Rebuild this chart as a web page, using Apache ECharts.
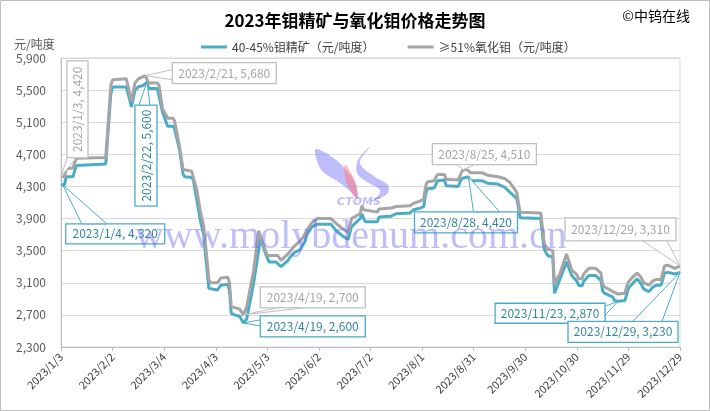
<!DOCTYPE html>
<html><head><meta charset="utf-8">
<script src="https://cdn.jsdelivr.net/npm/echarts@6/dist/echarts.min.js"></script>
<style>html,body{margin:0;padding:0;background:#fff}#c{width:710px;height:411px}</style>
</head><body><div id="c"></div>
<script>
// ---------- data ----------
const seriesNames = ['40-45%钼精矿（元/吨度）', '≥51%氧化钼（元/吨度）'];
const yTicks = [2300, 2700, 3100, 3500, 3900, 4300, 4700, 5100, 5500, 5900];

const blueDates = ['1/3','1/4','1/5','1/6','1/10','1/11','1/12','1/29','1/30','2/1','2/2','2/10','2/13','2/14','2/15','2/17','2/20','2/22','2/23','2/28','3/1','3/3','3/6','3/9','3/10','3/13','3/15','3/16','3/20','3/21','3/23','3/25','3/27','3/28','3/30','3/31','4/4','4/6','4/7','4/10','4/11','4/12','4/14','4/17','4/19','4/20','4/21','4/25','4/29','5/2','5/4','5/8','5/11','5/15','5/17','5/19','5/22','5/25','5/26','5/29','6/1','6/9','6/12','6/16','6/19','6/21','6/26','6/27','6/28','6/29','7/6','7/7','7/14','7/17','7/25','7/27','7/31','8/2','8/3','8/4','8/8','8/10','8/11','8/14','8/15','8/22','8/24','8/28','8/29','9/5','9/8','9/14','9/18','9/21','9/25','9/26','9/27','10/9','10/10','10/11','10/12','10/13','10/16','10/17','10/18','10/19','10/20','10/24','10/26','10/27','10/30','10/31','11/2','11/3','11/6','11/10','11/13','11/14','11/15','11/20','11/21','11/23','11/27','11/28','11/29','12/1','12/4','12/6','12/8','12/11','12/13','12/15','12/18','12/20','12/22','12/26','12/27','12/29'];
const blueValues = [4320,4320,4320,4420,4420,4500,4560,4580,4580,5460,5540,5540,5290,5290,5500,5540,5560,5600,5520,5520,5500,5230,5050,5050,5020,4750,4450,4420,4410,4380,4130,3880,3700,3450,3030,3010,3010,3070,3080,3080,3000,2720,2700,2680,2600,2620,2650,3090,3650,3460,3360,3360,3300,3380,3440,3480,3510,3620,3700,3800,3830,3830,3750,3680,3640,3800,3900,3960,3900,3860,3860,3920,3930,3960,3970,4010,4030,4050,4200,4270,4280,4370,4390,4380,4310,4300,4400,4420,4370,4370,4340,4330,4290,4230,4150,4050,3910,3900,3880,3520,3480,3440,3420,2970,2970,3080,3100,3360,3250,3190,3120,3070,3060,3120,3190,3190,3130,3000,2970,2920,2880,2870,2880,2960,3030,3080,3150,3100,3020,2990,3040,3070,3070,3220,3230,3210,3210,3230];

const grayDates = ['1/3','1/5','1/6','1/10','1/11','1/12','1/29','1/30','2/1','2/2','2/10','2/13','2/14','2/15','2/17','2/21','2/22','2/23','2/28','3/1','3/3','3/6','3/9','3/10','3/13','3/15','3/16','3/20','3/21','3/23','3/25','3/27','3/28','3/30','3/31','4/4','4/6','4/7','4/10','4/11','4/12','4/14','4/17','4/19','4/20','4/21','4/25','4/28','5/1','5/3','5/9','5/11','5/12','5/15','5/18','5/22','5/24','5/26','5/29','6/1','6/9','6/12','6/16','6/19','6/21','6/26','6/27','6/28','6/29','7/6','7/7','7/14','7/17','7/25','7/27','7/31','8/2','8/3','8/4','8/8','8/10','8/11','8/14','8/15','8/22','8/24','8/25','8/28','8/29','9/5','9/8','9/14','9/18','9/21','9/25','9/26','9/27','10/9','10/10','10/11','10/12','10/13','10/16','10/17','10/18','10/19','10/20','10/24','10/26','10/27','10/30','10/31','11/2','11/3','11/6','11/10','11/13','11/14','11/15','11/20','11/21','11/23','11/27','11/28','11/29','12/1','12/4','12/6','12/8','12/11','12/13','12/15','12/18','12/20','12/22','12/26','12/27','12/29'];
const grayValues = [4420,4420,4520,4530,4600,4650,4660,4670,5560,5630,5640,5360,5370,5590,5640,5680,5660,5590,5590,5560,5270,5150,5150,5120,4790,4510,4490,4490,4470,4250,4000,3800,3590,3140,3100,3100,3160,3170,3170,3100,2810,2790,2770,2700,2720,2800,3250,3750,3550,3440,3440,3380,3400,3460,3540,3620,3670,3760,3850,3900,3900,3840,3770,3730,3900,3960,4060,4010,4000,3980,4020,4030,4050,4060,4090,4120,4140,4300,4355,4370,4450,4460,4450,4390,4380,4480,4510,4500,4470,4470,4440,4420,4400,4350,4230,4100,3980,3970,3960,3600,3550,3520,3500,3070,3070,3170,3200,3460,3330,3260,3200,3150,3150,3210,3280,3280,3220,3080,3050,2990,2970,2960,2970,3050,3110,3160,3220,3180,3100,3070,3120,3140,3140,3310,3320,3280,3280,3310];

// callouts: [seriesIndex, date, value]
const calloutPoints = [
  [1,'1/3',4420],[1,'2/21',5680],[0,'2/22',5600],[0,'1/4',4320],
  [1,'4/19',2700],[0,'4/19',2600],[1,'8/25',4510],[0,'8/28',4420],
  [1,'12/29',3310],[0,'11/23',2870],[0,'12/29',3230]
];

// ---------- build ----------
const categories = [];
for (let t = new Date(2023,0,3); t <= new Date(2023,11,29); t.setDate(t.getDate()+1)) {
  categories.push('2023/' + (t.getMonth()+1) + '/' + t.getDate());
}
const full = d => '2023/' + d;
const fmt = v => v.toLocaleString('en-US');
const blueData = blueDates.map((d,i) => [full(d), blueValues[i]]);
const grayData = grayDates.map((d,i) => [full(d), grayValues[i]]);

const BLUE = '#4bacc6', GRAY = '#a5a5a5';
const FONT = 'Noto Sans CJK SC';

const chart = echarts.init(document.getElementById('c'), null, {renderer:'canvas'});
chart.setOption({
  animation: false,
  backgroundColor: '#fff',
  textStyle: {fontFamily: FONT},
  title: {text: '2023年钼精矿与氧化钼价格走势图', left: 'center', top: 7,
    textStyle: {fontSize: 17, fontWeight: 'bold', color: '#000', fontFamily: FONT}},
  legend: {left: 196, top: 36, itemWidth: 26, itemHeight: 3, itemGap: 33,
    icon: 'rect', textStyle: {fontSize: 12, color: '#404040', fontFamily: FONT},
    data: seriesNames},
  grid: {left: 61, right: 30, top: 58, bottom: 64, show: true, borderColor: '#d9d9d9', borderWidth: 1},
  xAxis: {type: 'category', data: categories, boundaryGap: false,
    axisLine: {lineStyle: {color: '#bfbfbf'}},
    axisTick: {show: true, interval: 29, length: 4, lineStyle: {color: '#bfbfbf'}},
    axisLabel: {interval: 29, rotate: 45, fontSize: 11, color: '#404040', margin: 8, fontFamily: FONT},
    splitLine: {show: false}},
  yAxis: {type: 'value', min: yTicks[0], max: yTicks[yTicks.length-1], interval: 400,
    axisLine: {show: true, lineStyle: {color: '#bfbfbf'}},
    axisTick: {show: false},
    axisLabel: {fontSize: 12, color: '#595959', margin: 15, formatter: v => fmt(v), fontFamily: FONT},
    splitLine: {lineStyle: {color: '#d9d9d9'}}},
  series: [
    {name: seriesNames[0], type: 'line', data: blueData, showSymbol: false, symbol: 'none',
     lineStyle: {color: BLUE, width: 3}, itemStyle: {color: BLUE}, z: 2},
    {name: seriesNames[1], type: 'line', data: grayData, showSymbol: false, symbol: 'none',
     lineStyle: {color: GRAY, width: 3}, itemStyle: {color: GRAY}, z: 3}
  ]
});

// layout of callout boxes relative to their anchor (style only)
const calloutLayout = [
  {box:[6,-116,21,97], vert:true, w:[[6,-19],[15,-19]]},
  {box:[27,-13,104,21], w:[[27,-6],[27,4]]},
  {box:[-12,23,22,101], vert:true, w:[[-8,23],[3,23]]},
  {box:[3,39,99,20], w:[[19,39],[44,39]]},
  {box:[17,-28,105,21], w:[[34,-7],[60,-7]]},
  {box:[17,-7,105,21], w:[[17,-3],[17,3]]},
  {box:[-31,-26,104,21], w:[[-7,-5],[11,-5]]},
  {box:[-54,35,103,21], w:[[5,35],[31,35]]},
  {box:[-115,-48,111,23], w:[[-37,-25],[-13,-25]]},
  {box:[-123,2,110,20], w:[[-13,5],[-13,14]]},
  {box:[-112,49,110,21], w:[[-47,49],[-18,49]]}
];

const g = [];
calloutPoints.forEach((cp, i) => {
  const [si, d, v] = cp;
  const p = chart.convertToPixel({seriesIndex: si}, [full(d), v]);
  const L = calloutLayout[i];
  const stroke = si === 0 ? BLUE : '#bfbfbf';
  const tcol = si === 0 ? '#31869b' : '#a5a5a5';
  const bx = p[0] + L.box[0], by = p[1] + L.box[1], bw = L.box[2], bh = L.box[3];
  g.push({type:'rect', shape:{x:bx, y:by, width:bw, height:bh},
    style:{fill:'#fff', stroke:stroke, lineWidth:1.3}, z:50});
  g.push({type:'polygon', shape:{points:[[p[0]+L.w[0][0], p[1]+L.w[0][1]], [p[0],p[1]], [p[0]+L.w[1][0], p[1]+L.w[1][1]]]},
    style:{fill:'#fff', stroke:stroke, lineWidth:1}, z:51});
  const txt = '2023/' + d + ', ' + fmt(v);
  const t = {type:'text', x: bx + bw/2, y: by + bh/2,
      style:{text: txt, fill: tcol, font: '12px "' + FONT + '"', align:'center', verticalAlign:'middle'}, z:52};
  if (L.vert) t.rotation = Math.PI/2;
  g.push(t);
});

// watermark (decorative, drawn over everything)
const wm = 'rgba(100,100,250,0.42)';
g.push({type:'polygon', shape:{smooth:0.35, points:[[316,149],[335,159],[346,170],[355,183],[358,199],[350,191],[337,181],[323,172],[317,161]]}, style:{fill:wm}, z:60});
g.push({type:'polygon', shape:{smooth:0.4, points:[[345,165],[352,175],[357,188],[356,198],[349,188],[345,177]]}, style:{fill:'rgba(255,120,130,0.55)'}, z:61});
g.push({type:'polygon', shape:{smooth:0.35, points:[[370,147],[360,163],[375,177],[388,185],[387,194],[367,203],[377,197],[380,190],[367,182],[357,173],[358,160]]}, style:{fill:wm}, z:60});
g.push({type:'text', x:359, y:202, style:{text:'CTOMS', fill:wm, font:'italic bold 11px "DejaVu Sans"', align:'center', verticalAlign:'middle'}, z:60});
g.push({type:'text', x:135, y:237, style:{text:'www.molybdenum.com.cn', fill:'rgba(100,100,250,0.42)', font:'40px "Liberation Serif"', align:'left', verticalAlign:'middle'}, z:60});

// y axis name, copyright, frame
g.push({type:'text', x:14, y:44, style:{text:'元/吨度', fill:'#595959', font:'12px "' + FONT + '"', verticalAlign:'middle'}, z:10});
g.push({type:'text', x:690, y:16, style:{text:'©中钨在线', fill:'#000', font:'14px "' + FONT + '"', align:'right', verticalAlign:'middle'}, z:10});
g.push({type:'rect', shape:{x:0.5, y:0.5, width:709, height:410}, style:{fill:'none', stroke:'#bfbfbf', lineWidth:1}, z:1});

chart.setOption({graphic: g});
</script></body></html>
